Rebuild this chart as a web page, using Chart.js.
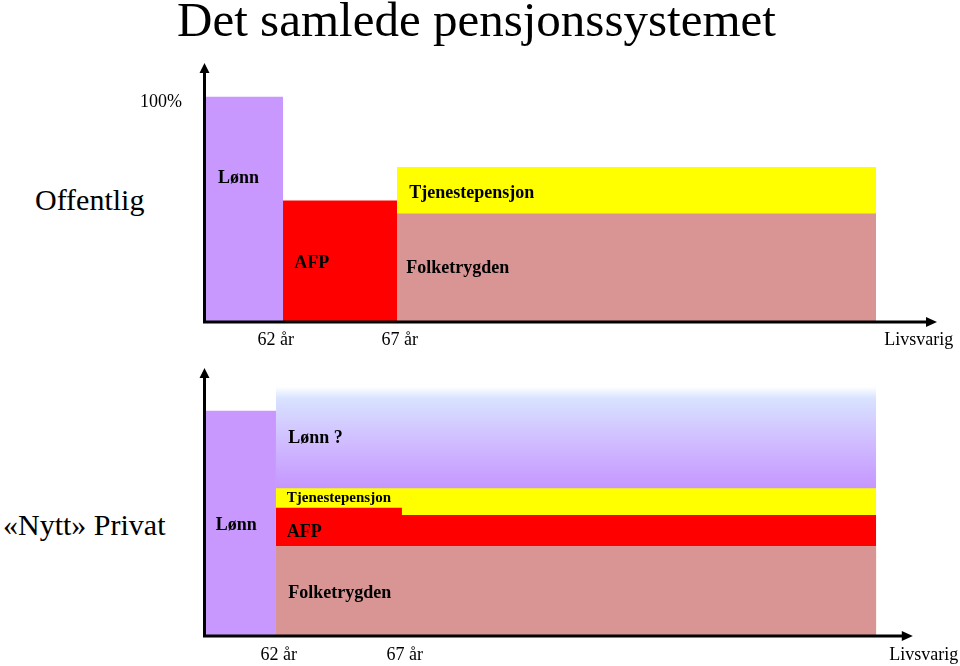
<!DOCTYPE html>
<html lang="no">
<head>
<meta charset="utf-8">
<title>Det samlede pensjonssystemet</title>
<script src="https://cdn.jsdelivr.net/npm/chart.js@4.4.1/dist/chart.umd.min.js"></script>
<style>
  html, body { margin: 0; padding: 0; background: #fff; }
  .page { position: relative; width: 960px; height: 666px; overflow: hidden; font-family: "Liberation Serif", "Times New Roman", serif; color: #000; }
  .title { position: absolute; left: 0; top: -5px; width: 953px; text-align: center; font-size: 49px; line-height: 49px; white-space: nowrap; }
  .row { position: absolute; font-size: 30px; line-height: 30px; white-space: nowrap; }
  #offentlig { left: 35px; top: 185px; }
  #privat { left: 3px; top: 510px; }
  .chart { position: absolute; left: 0; width: 960px; }
  #wrap-top { top: 0; height: 360px; }
  #wrap-bottom { top: 360px; height: 306px; }
</style>
</head>
<body>
<div class="page">
  <div class="title">Det samlede pensjonssystemet</div>
  <div class="row" id="offentlig">Offentlig</div>
  <div class="row" id="privat">«Nytt» Privat</div>
  <div class="chart" id="wrap-top"><canvas id="chart-offentlig"></canvas></div>
  <div class="chart" id="wrap-bottom"><canvas id="chart-privat"></canvas></div>
</div>
<script>
(function() {
  "use strict";

  // Data - Start
  // --------------------------------------------------
  // three periods on the time axis: before 62, 62-67, lifelong
  var periods = ["Før 62 år", "62–67 år", "Livsvarig"];
  var tickLabels = ["62 år", "67 år", "Livsvarig"];

  // Offentlig (share of salary, %)
  var offEdges = [0, 10.78, 26.33, 91.68];
  var offLonn = [100, null, null];
  var offAfp = [null, 54.0, null];
  var offFolketrygd = [null, null, 48.2];
  var offTjeneste = [null, null, 20.6];
  var offTicks = [9.8, 26.7, 97.5];

  // «Nytt» Privat (share of salary, %)
  var privEdges = [0, 9.82, 27.0, 91.7];
  var privLonn = [100, null, null];
  var privFolketrygd = [null, 40, 40];
  var privAfp = [null, 17.0, 13.7];
  var privTjeneste = [null, 8.6, 11.9];
  var privLonnUsikker = [null, 45.1, 45.1];
  var privTicks = [10.2, 27.4, 98.2];
  // Data - End
  // --------------------------------------------------

  var FONT = "'Liberation Serif', 'Times New Roman', serif";
  var PURPLE = "#C898FF";
  var RED = "#FF0000";
  var YELLOW = "#FFFF00";
  var ROSE = "#D99594";

  // Stacked step areas - Start
  // --------------------------------------------------
  function buildDatasets(edges, layers) {
    var base = periods.map(function() { return 0; });
    return layers.map(function(layer, i) {
      var pts = [];
      var topVal = 0, baseVal = Infinity;
      layer.values.forEach(function(v, p) {
        if (v === null) return;
        if (pts.length && layer.values[p - 1] === null) pts.push({x: edges[p], y: null});
        var y0 = base[p];
        var y1 = y0 + v;
        base[p] = y1;
        topVal = Math.max(topVal, y1);
        baseVal = Math.min(baseVal, y0);
        pts.push({x: edges[p], y: y1});
        if (p === layer.values.length - 1 || layer.values[p + 1] === null) {
          pts.push({x: edges[p + 1], y: y1});
        }
      });
      var bg = layer.color;
      if (layer.gradient) {
        bg = function(context) {
          var chart = context.chart;
          if (!chart.chartArea || !chart.scales.y) return PURPLE;
          var ys = chart.scales.y;
          var g = chart.ctx.createLinearGradient(0, ys.getPixelForValue(topVal), 0, ys.getPixelForValue(baseVal));
          g.addColorStop(0, "#FFFFFF");
          g.addColorStop(0.12, "#D8E2FF");
          g.addColorStop(0.55, "#D0BCFF");
          g.addColorStop(1, "#C596FF");
          return g;
        };
      }
      return {
        label: layer.name,
        data: pts,
        order: i,
        stepped: true,
        fill: "origin",
        backgroundColor: bg,
        borderColor: "rgba(0,0,0,0)",
        borderWidth: 0,
        pointRadius: 0,
        spanGaps: false
      };
    });
  }
  // Stacked step areas - End
  // --------------------------------------------------

  // Plugins - Start
  // --------------------------------------------------
  var arrowAxes = {
    id: "arrowAxes",
    afterDatasetsDraw: function(chart, args, opts) {
      var ctx = chart.ctx, a = chart.chartArea;
      var xEnd = chart.scales.x.getPixelForValue(opts.xEnd);
      var x0 = a.left + 0.5, y0 = a.bottom;
      ctx.save();
      ctx.strokeStyle = "#000";
      ctx.fillStyle = "#000";
      ctx.lineWidth = 3;
      ctx.beginPath();
      ctx.moveTo(x0, y0 + 1.5);
      ctx.lineTo(x0, a.top + 8);
      ctx.moveTo(x0 - 1.5, y0);
      ctx.lineTo(xEnd - 8, y0);
      ctx.stroke();
      ctx.beginPath();
      ctx.moveTo(x0, a.top);
      ctx.lineTo(x0 - 5, a.top + 10);
      ctx.lineTo(x0 + 5, a.top + 10);
      ctx.closePath();
      ctx.moveTo(xEnd, y0);
      ctx.lineTo(xEnd - 11, y0 - 5);
      ctx.lineTo(xEnd - 11, y0 + 5);
      ctx.closePath();
      ctx.fill();
      ctx.restore();
    }
  };

  var bandLabels = {
    id: "bandLabels",
    afterDatasetsDraw: function(chart, args, opts) {
      var ctx = chart.ctx, xs = chart.scales.x, ys = chart.scales.y;
      ctx.save();
      ctx.fillStyle = "#000";
      ctx.textAlign = "left";
      ctx.textBaseline = "middle";
      (opts.items || []).forEach(function(it) {
        ctx.font = "bold " + (it.size || 18) + "px " + FONT;
        ctx.fillText(it.text, xs.getPixelForValue(it.x), ys.getPixelForValue(it.y));
      });
      ctx.restore();
    }
  };
  // Plugins - End
  // --------------------------------------------------

  function makeChart(id, cfg) {
    return new Chart(document.getElementById(id), {
      type: "line",
      data: { datasets: cfg.datasets },
      options: {
        responsive: true,
        maintainAspectRatio: false,
        animation: false,
        events: [],
        layout: { padding: { top: cfg.padTop, right: 23, bottom: 0, left: 0 } },
        plugins: {
          legend: { display: false },
          tooltip: { enabled: false },
          arrowAxes: { xEnd: cfg.xEnd },
          bandLabels: { items: cfg.labels }
        },
        scales: {
          x: {
            type: "linear",
            min: 0,
            max: 100,
            grid: { display: false, drawTicks: false },
            border: { display: false },
            afterBuildTicks: function(scale) {
              scale.ticks = cfg.ticks.map(function(v) { return {value: v}; });
            },
            afterFit: function(scale) {
              scale.height = cfg.xHeight;
              scale.paddingLeft = 0;
              scale.paddingRight = 0;
            },
            ticks: {
              autoSkip: false,
              maxRotation: 0,
              padding: cfg.xPad,
              color: "#000",
              font: { family: FONT, size: 18 },
              callback: function(v, i) { return tickLabels[i]; }
            }
          },
          y: {
            type: "linear",
            min: 0,
            max: cfg.yMax,
            grid: { display: false, drawTicks: false },
            border: { display: false },
            afterBuildTicks: function(scale) {
              scale.ticks = cfg.yTicks.map(function(v) { return {value: v}; });
            },
            afterFit: function(scale) { scale.width = 204; },
            ticks: {
              display: cfg.yTicks.length > 0,
              padding: 22,
              labelOffset: 5,
              color: "#000",
              font: { family: FONT, size: 18 },
              callback: function(v) { return v + "%"; }
            }
          }
        }
      },
      plugins: [arrowAxes, bandLabels]
    });
  }

  // Chart Offentlig - Start
  // --------------------------------------------------
  makeChart("chart-offentlig", {
    datasets: buildDatasets(offEdges, [
      { name: "Folketrygden", values: offFolketrygd, color: ROSE },
      { name: "Tjenestepensjon", values: offTjeneste, color: YELLOW },
      { name: "AFP", values: offAfp, color: RED },
      { name: "Lønn", values: offLonn, color: PURPLE }
    ]),
    ticks: offTicks,
    yTicks: [100],
    yMax: 115,
    padTop: 63,
    xHeight: 38,
    xPad: 7,
    xEnd: 100,
    labels: [
      { text: "Lønn", x: 1.9, y: 63.8 },
      { text: "AFP", x: 12.3, y: 26.2 },
      { text: "Tjenestepensjon", x: 28.0, y: 57.3 },
      { text: "Folketrygden", x: 27.6, y: 23.8 }
    ]
  });
  // Chart Offentlig - End
  // --------------------------------------------------

  // Chart Privat - Start
  // --------------------------------------------------
  makeChart("chart-privat", {
    datasets: buildDatasets(privEdges, [
      { name: "Folketrygden", values: privFolketrygd, color: ROSE },
      { name: "AFP", values: privAfp, color: RED },
      { name: "Tjenestepensjon", values: privTjeneste, color: YELLOW },
      { name: "Lønn ?", values: privLonnUsikker, color: PURPLE, gradient: true },
      { name: "Lønn", values: privLonn, color: PURPLE }
    ]),
    ticks: privTicks,
    yTicks: [],
    yMax: 119,
    padTop: 8,
    xHeight: 30,
    xPad: 8,
    xEnd: 96.7,
    labels: [
      { text: "Lønn", x: 1.6, y: 49.3 },
      { text: "Lønn ?", x: 11.5, y: 87.9 },
      { text: "Tjenestepensjon", x: 11.3, y: 61.4, size: 15 },
      { text: "AFP", x: 11.3, y: 46.2 },
      { text: "Folketrygden", x: 11.5, y: 19.1 }
    ]
  });
  // Chart Privat - End
  // --------------------------------------------------

})();
</script>
</body>
</html>
